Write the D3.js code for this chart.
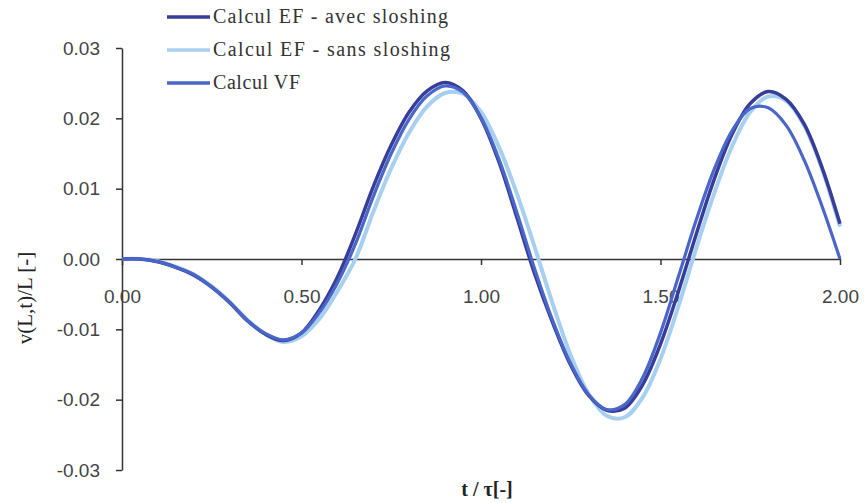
<!DOCTYPE html>
<html>
<head>
<meta charset="utf-8">
<script src="https://cdn.jsdelivr.net/npm/d3@7"></script>
<style>
  html, body { margin: 0; padding: 0; background: #ffffff; }
  svg { display: block; }
</style>
</head>
<body>
<svg id="chart" width="864" height="503"></svg>
<script>
// ---- data ----
const tValues = [0.00,0.05,0.10,0.15,0.20,0.25,0.30,0.35,0.40,0.45,
                 0.50,0.55,0.60,0.65,0.70,0.75,0.80,0.85,0.90,0.95,
                 1.00,1.05,1.10,1.15,1.20,1.25,1.30,1.35,1.40,1.45,
                 1.50,1.55,1.60,1.65,1.70,1.75,1.80,1.85,1.90,1.95,2.00];

const avecSloshing = [0,0,-0.0004,-0.0012,-0.0023,-0.0040,-0.0062,-0.0088,-0.0107,-0.0116,
                      -0.0105,-0.0072,-0.0026,0.0035,0.0103,0.0162,0.0209,0.0239,0.0251,0.0239,
                      0.0200,0.0138,0.0059,-0.0022,-0.0091,-0.0151,-0.0194,-0.0215,-0.0212,-0.0179,
                      -0.0121,-0.0046,0.0036,0.0114,0.0178,0.0221,0.0238,0.0227,0.0192,0.0130,0.0050];

const sansSloshing = [0,0,-0.0003,-0.0011,-0.0022,-0.0039,-0.0061,-0.0087,-0.0107,-0.0118,
                      -0.0110,-0.0085,-0.0046,0.0000,0.0067,0.0129,0.0180,0.0217,0.0236,0.0235,
                      0.0209,0.0159,0.0093,0.0016,-0.0064,-0.0137,-0.0192,-0.0223,-0.0225,-0.0197,
                      -0.0142,-0.0067,0.0016,0.0094,0.0161,0.0209,0.0231,0.0225,0.0190,0.0128,0.0046];

const calculVF = [0,0,-0.0004,-0.0012,-0.0022,-0.0040,-0.0062,-0.0088,-0.0106,-0.0115,
                  -0.0105,-0.0076,-0.0034,0.0021,0.0089,0.0150,0.0199,0.0232,0.0246,0.0237,
                  0.0201,0.0142,0.0066,-0.0015,-0.0088,-0.0149,-0.0193,-0.0214,-0.0207,-0.0169,
                  -0.0105,-0.0025,0.0056,0.0128,0.0183,0.0214,0.0215,0.0190,0.0141,0.0075,0.0000];

const seriesNames = ["Calcul EF - avec sloshing", "Calcul EF - sans sloshing", "Calcul VF"];
const xTicks = [0, 0.5, 1.0, 1.5, 2.0];
const yTicks = [-0.03, -0.02, -0.01, 0.00, 0.01, 0.02, 0.03];
const xTitle = "t / τ[-]";
const yTitle = "v(L,t)/L [-]";

// ---- layout ----
const svg = d3.select("#chart");
const x = d3.scaleLinear().domain([0, 2]).range([122, 840]);
const y = d3.scaleLinear().domain([-0.03, 0.03]).range([470, 48]);

const colors = ["#373d98", "#a6cff0", "#4a66c8"];
const widths = [3.5, 4, 3.2];
const fmt = d => d3.format(".2f")(d).replace("\u2212", "-");

// axes
const axisColor = "#333";
const yAxis = svg.append("g")
  .attr("transform", `translate(${x(0)},0)`)
  .call(d3.axisLeft(y).tickValues(yTicks).tickSize(6).tickSizeOuter(0).tickFormat(fmt));
yAxis.select(".domain").attr("stroke", axisColor).attr("stroke-width", 1.5);
yAxis.selectAll(".tick line").attr("stroke", axisColor).attr("stroke-width", 1.5);
yAxis.selectAll(".tick text")
  .attr("x", -22)
  .attr("fill", "#444")
  .style("font-family", "'Liberation Sans', Arial, sans-serif")
  .style("font-size", "19px");

const xAxis = svg.append("g")
  .attr("transform", `translate(0,${y(0)})`)
  .call(d3.axisBottom(x).tickValues(xTicks).tickSize(6).tickSizeOuter(0).tickFormat(fmt));
xAxis.select(".domain").attr("stroke", axisColor).attr("stroke-width", 1.5);
xAxis.selectAll(".tick line").attr("stroke", axisColor).attr("stroke-width", 1.5);
xAxis.selectAll(".tick text")
  .attr("y", 31)
  .attr("fill", "#444")
  .style("font-family", "'Liberation Sans', Arial, sans-serif")
  .style("font-size", "19px");

// lines
const line = d3.line()
  .x((d, i) => x(tValues[i]))
  .y(d => y(d))
  .curve(d3.curveCatmullRom.alpha(0.5));

const allSeries = [avecSloshing, sansSloshing, calculVF];
const drawOrder = [1, 0, 2];
drawOrder.forEach(k => {
  svg.append("path")
    .datum(allSeries[k])
    .attr("fill", "none")
    .attr("stroke", colors[k])
    .attr("stroke-width", widths[k])
    .attr("stroke-linejoin", "round")
    .attr("d", line);
});

// legend
const legend = svg.append("g");
const legendY = [17, 50, 83];
const legendLen = [235, 237, 87];
seriesNames.forEach((name, i) => {
  legend.append("line")
    .attr("x1", 167).attr("x2", 210)
    .attr("y1", legendY[i]).attr("y2", legendY[i])
    .attr("stroke", colors[i]).attr("stroke-width", 3.5);
  legend.append("text")
    .attr("x", 213).attr("y", legendY[i] + 6)
    .attr("fill", "#333")
    .attr("textLength", legendLen[i])
    .attr("lengthAdjust", "spacing")
    .style("font-family", "'Liberation Serif', 'Times New Roman', serif")
    .style("font-size", "20px")
    .text(name);
});

// axis titles
svg.append("text")
  .attr("x", 487).attr("y", 496)
  .attr("text-anchor", "middle")
  .attr("fill", "#222")
  .style("font-family", "'Liberation Serif', 'Times New Roman', serif")
  .style("font-size", "20px")
  .style("font-weight", "bold")
  .text(xTitle);

svg.append("text")
  .attr("transform", "translate(32,298) rotate(-90)")
  .attr("text-anchor", "middle")
  .attr("fill", "#222")
  .style("font-family", "'Liberation Serif', 'Times New Roman', serif")
  .style("font-size", "21px")
  .text(yTitle);
</script>
</body>
</html>
